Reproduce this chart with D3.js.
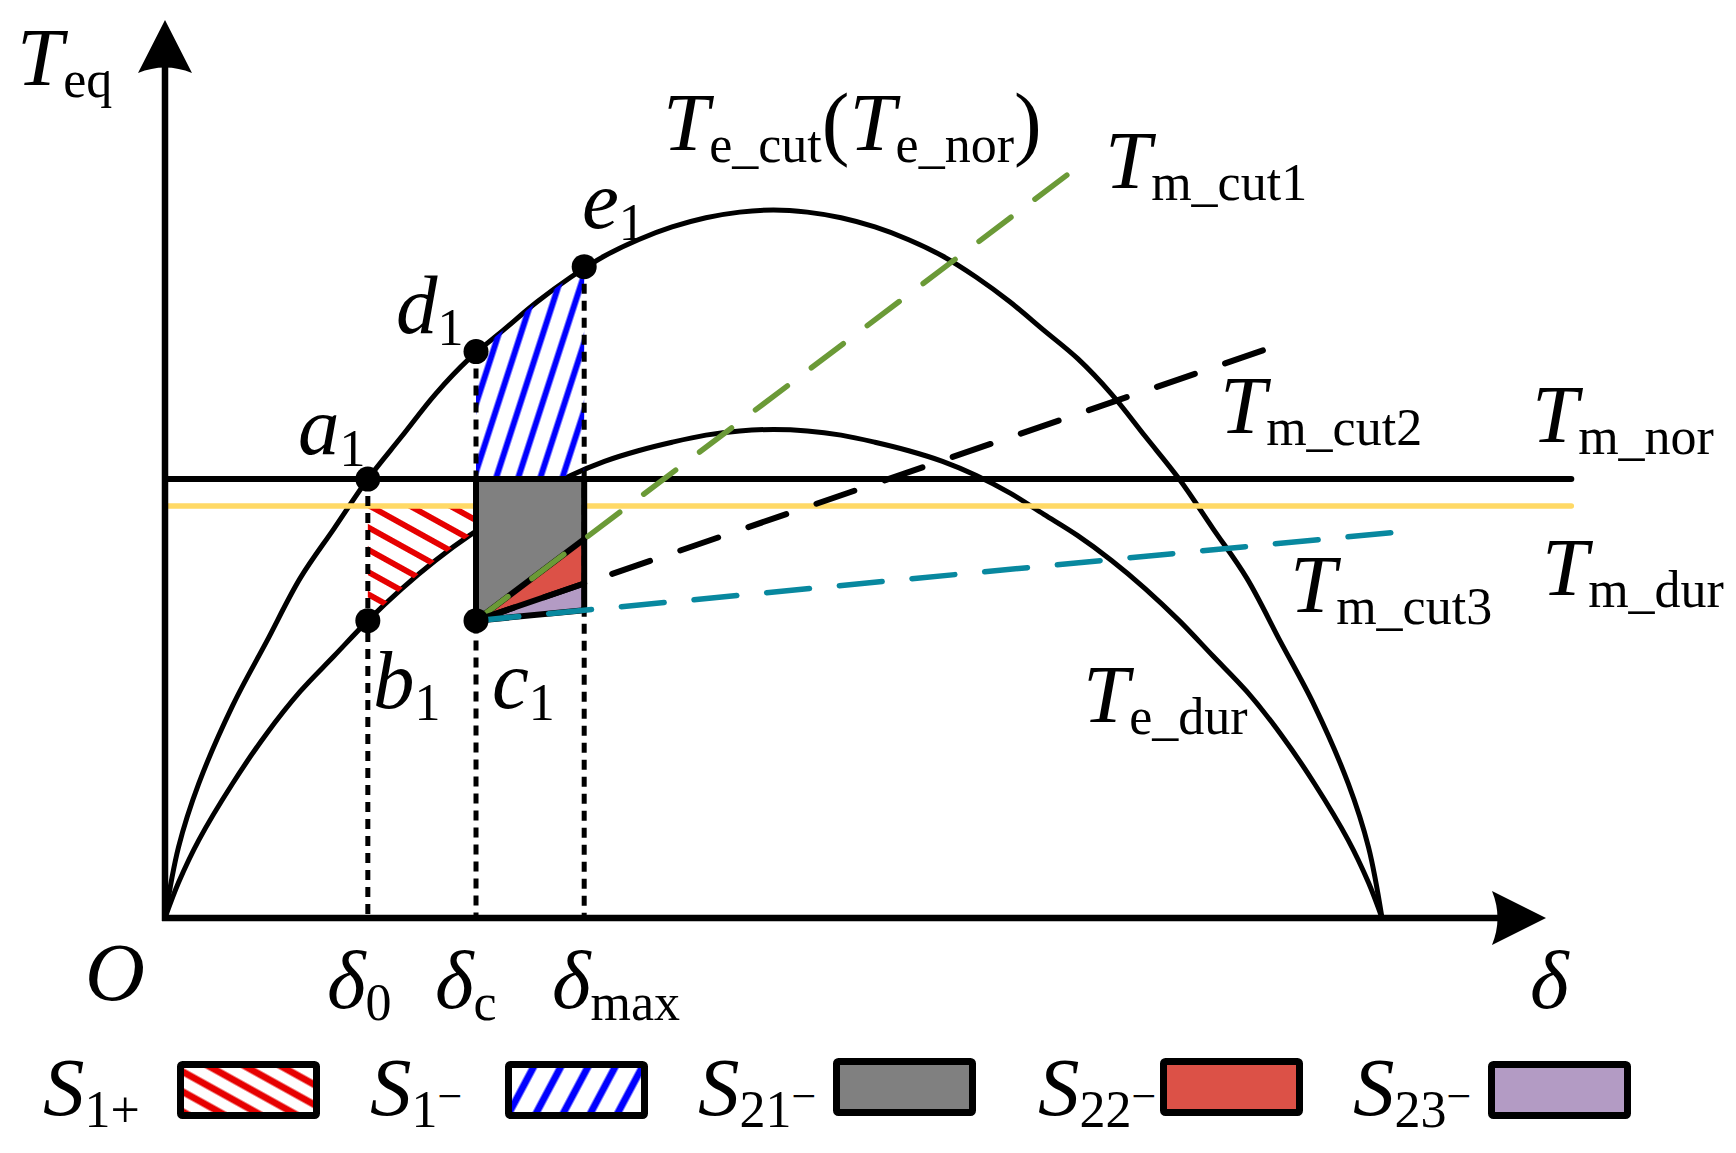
<!DOCTYPE html>
<html>
<head>
<meta charset="utf-8">
<script src="https://cdn.jsdelivr.net/npm/d3@7"></script>
<style>
  html, body { margin: 0; padding: 0; background: #fff; }
  svg { display: block; }
  text { font-family: "Liberation Serif", "Times New Roman", serif; fill: #000; }
</style>
</head>
<body>
<svg id="chart" width="1736" height="1153"></svg>
<script>
// power angle samples (deg) and the two electromagnetic torque curves
var deltaSamples = [0, 2, 5, 10, 15, 20, 25, 30, 35, 40, 45, 50, 55, 60, 65, 70, 75, 80, 85, 90,
  95, 100, 105, 110, 115, 120, 125, 130, 135, 140, 145, 150, 155, 160, 165, 170, 175, 178, 180];
var teCutVals = [0, 0.10, 0.19, 0.30, 0.39, 0.48, 0.55, 0.62, 0.68, 0.74, 0.79, 0.83, 0.87, 0.905, 0.935, 0.958, 0.976, 0.989, 0.997, 1.00,
  0.997, 0.989, 0.976, 0.958, 0.935, 0.905, 0.87, 0.83, 0.79, 0.74, 0.68, 0.62, 0.55, 0.48, 0.39, 0.30, 0.19, 0.10, 0];
var teDurVals = [0, 0.05, 0.11, 0.19, 0.26, 0.32, 0.37, 0.42, 0.465, 0.505, 0.54, 0.57, 0.60, 0.625, 0.645, 0.66, 0.672, 0.682, 0.688, 0.69,
  0.688, 0.682, 0.672, 0.66, 0.645, 0.625, 0.60, 0.57, 0.54, 0.505, 0.465, 0.42, 0.37, 0.32, 0.26, 0.19, 0.11, 0.05, 0];

// mechanical torque levels
var tmNor = 0.62;
var tmDur = 0.582;
var tmEnd = 208; // where the horizontal torque lines stop

// key angles
var angleNames = ["0", "c", "max"];
var angleVals = [30, 46, 62];

// marked points a1..e1
var pointNames = ["a", "b", "c", "d", "e"];
var pointDelta = [30, 30, 46, 46, 62];
var pointT = [0.62, 0.42, 0.42, 0.80, 0.92];

// T_m_cut lines, all start at c1
var cutNames = ["m_cut1", "m_cut2", "m_cut3"];
var cutEndDelta = [134.6, 163.1, 182.2];
var cutEndT = [1.058, 0.804, 0.545];
var cutColors = ["#6b9a37", "#000000", "#08889f"];

// legend
var legendNames = ["1+", "1\u2212", "21\u2212", "22\u2212", "23\u2212"];

var svg = d3.select("#chart");

var x = d3.scaleLinear().domain([0, 180]).range([165, 1382]);
var y = d3.scaleLinear().domain([0, 1]).range([918, 210]);

var curve = d3.curveCatmullRom.alpha(0.5);
var cutPts = deltaSamples.map(function (d, i) { return [d, teCutVals[i]] });
var durPts = deltaSamples.map(function (d, i) { return [d, teDurVals[i]] });

var line = d3.line()
  .x(function (d) { return x(d[0]) })
  .y(function (d) { return y(d[1]) })
  .curve(curve);

//patterns
var defs = svg.append("defs");
function hatch(id, color, gap, width, angle) {
  var p = defs.append("pattern")
    .attr("id", id)
    .attr("patternUnits", "userSpaceOnUse")
    .attr("width", 40).attr("height", gap)
    .attr("patternTransform", "rotate(" + angle + ")");
  p.append("line")
    .attr("x1", 0).attr("x2", 40)
    .attr("y1", gap / 2).attr("y2", gap / 2)
    .attr("stroke", color).attr("stroke-width", width);
}
hatch("hatchRed", "#e60000", 19.5, 6, 29);
hatch("hatchBlue", "#0000ff", 21, 6, -72);
hatch("legRed", "#e60000", 17.5, 7, 29);
hatch("legBlue", "#0000ff", 24, 7, -62);

defs.append("clipPath").attr("id", "clipS1p")
  .append("rect")
  .attr("x", x(angleVals[0])).attr("y", 0)
  .attr("width", x(angleVals[1]) - x(angleVals[0])).attr("height", 1153);
defs.append("clipPath").attr("id", "clipS1m")
  .append("rect")
  .attr("x", x(angleVals[1])).attr("y", 0)
  .attr("width", x(angleVals[2]) - x(angleVals[1])).attr("height", 1153);

//curves
svg.append("path").attr("d", line(cutPts))
  .attr("fill", "none").attr("stroke", "#000").attr("stroke-width", 5);
svg.append("path").attr("d", line(durPts))
  .attr("fill", "none").attr("stroke", "#000").attr("stroke-width", 5);

//hatched areas
var areaDur = d3.area()
  .x(function (d) { return x(d[0]) })
  .y0(function (d) { return y(d[1]) })
  .y1(y(tmDur))
  .curve(curve);
svg.append("path").attr("d", areaDur(durPts))
  .attr("clip-path", "url(#clipS1p)")
  .attr("fill", "url(#hatchRed)");

var areaCut = d3.area()
  .x(function (d) { return x(d[0]) })
  .y0(function (d) { return y(d[1]) })
  .y1(y(tmNor))
  .curve(curve);
svg.append("path").attr("d", areaCut(cutPts))
  .attr("clip-path", "url(#clipS1m)")
  .attr("fill", "url(#hatchBlue)");

//yellow T_m_dur
svg.append("line")
  .attr("x1", x(0)).attr("x2", x(tmEnd))
  .attr("y1", y(tmDur)).attr("y2", y(tmDur))
  .attr("stroke", "#ffd966").attr("stroke-width", 5.5)
  .attr("stroke-linecap", "round");

//box with S21 S22 S23
var dc = angleVals[1], dm = angleVals[2];
var c1 = [pointDelta[2], pointT[2]];
function cutAt(i, d) {
  return c1[1] + (cutEndT[i] - c1[1]) * (d - c1[0]) / (cutEndDelta[i] - c1[0]);
}
function poly(pts) {
  return "M" + pts.map(function (p) { return x(p[0]) + "," + y(p[1]) }).join("L") + "Z";
}
svg.append("path")
  .attr("d", poly([[dc, tmNor], [dm, tmNor], [dm, cutAt(0, dm)], c1]))
  .attr("fill", "#808080");
svg.append("path")
  .attr("d", poly([c1, [dm, cutAt(0, dm)], [dm, cutAt(1, dm)]]))
  .attr("fill", "#dc5147");
svg.append("path")
  .attr("d", poly([c1, [dm, cutAt(1, dm)], [dm, cutAt(2, dm)]]))
  .attr("fill", "#b39bc4");

var edges = [
  [[dc, tmNor], c1],
  [[dm, tmNor], [dm, cutAt(2, dm)]],
  [c1, [dm, cutAt(0, dm)]],
  [c1, [dm, cutAt(1, dm)]],
  [c1, [dm, cutAt(2, dm)]]
];
svg.selectAll(".edge").data(edges).enter().append("line")
  .attr("class", "edge")
  .attr("x1", function (d) { return x(d[0][0]) })
  .attr("y1", function (d) { return y(d[0][1]) })
  .attr("x2", function (d) { return x(d[1][0]) })
  .attr("y2", function (d) { return y(d[1][1]) })
  .attr("stroke", "#000").attr("stroke-width", 6)
  .attr("stroke-linecap", "round");

//T_m_nor
svg.append("line")
  .attr("x1", x(0)).attr("x2", x(tmEnd))
  .attr("y1", y(tmNor)).attr("y2", y(tmNor))
  .attr("stroke", "#000").attr("stroke-width", 6)
  .attr("stroke-linecap", "round");

//dotted drops
var dropTop = [pointT[0], pointT[3], pointT[4]];
svg.selectAll(".drop").data(angleVals).enter().append("line")
  .attr("class", "drop")
  .attr("x1", function (d) { return x(d) })
  .attr("x2", function (d) { return x(d) })
  .attr("y1", function (d, i) { return y(dropTop[i]) })
  .attr("y2", y(0))
  .attr("stroke", "#000").attr("stroke-width", 5)
  .attr("stroke-dasharray", "10,7");

//dashed cut lines
var dashes = ["40,30", "40,32", "43,30"];
svg.selectAll(".cut").data(cutNames).enter().append("line")
  .attr("class", "cut")
  .attr("x1", x(c1[0])).attr("y1", y(c1[1]))
  .attr("x2", function (d, i) { return x(cutEndDelta[i]) })
  .attr("y2", function (d, i) { return y(cutEndT[i]) })
  .attr("stroke", function (d, i) { return cutColors[i] })
  .attr("stroke-width", function (d, i) { return i == 1 ? 6 : 5.5 })
  .attr("stroke-linecap", "round")
  .attr("stroke-dasharray", function (d, i) { return dashes[i] });

//points
svg.selectAll(".pt").data(pointNames).enter().append("circle")
  .attr("class", "pt")
  .attr("cx", function (d, i) { return x(pointDelta[i]) })
  .attr("cy", function (d, i) { return y(pointT[i]) })
  .attr("r", 12.5)
  .attr("fill", "#000");

//axes
svg.append("line")
  .attr("x1", x(0)).attr("x2", x(0))
  .attr("y1", y(0) + 3).attr("y2", 66)
  .attr("stroke", "#000").attr("stroke-width", 6.5);
svg.append("path")
  .attr("d", "M165,20 L192,73 Q165,62 138,73 Z")
  .attr("fill", "#000");
svg.append("line")
  .attr("x1", x(0) - 3).attr("x2", 1500)
  .attr("y1", y(0)).attr("y2", y(0))
  .attr("stroke", "#000").attr("stroke-width", 6.5);
svg.append("path")
  .attr("d", "M1546,918 L1492,891 Q1503,918 1492,945 Z")
  .attr("fill", "#000");

//labels
var BIG = 83, SUB = 52, SHIFT = 12;
function label(px, py, parts) {
  var t = svg.append("text").attr("x", px).attr("y", py);
  var off = 0;
  parts.forEach(function (p) {
    var s = t.append("tspan").text(p.t);
    var want = p.sub ? SHIFT : (p.dy || 0);
    s.attr("dy", want - off);
    off = want;
    s.attr("font-size", p.size || (p.sub ? SUB : BIG));
    if (p.i) s.attr("font-style", "italic");
  });
  return t;
}

label(17, 85, [{ t: "T", i: true }, { t: "eq", sub: true }]);
label(663, 150, [{ t: "T", i: true }, { t: "e_cut", sub: true }, { t: "(" },
  { t: "T", i: true }, { t: "e_nor", sub: true }, { t: ")" }]);
label(1105, 188, [{ t: "T", i: true }, { t: cutNames[0], sub: true }]);
label(1220, 433, [{ t: "T", i: true }, { t: cutNames[1], sub: true }]);
label(1290, 612, [{ t: "T", i: true }, { t: cutNames[2], sub: true }]);
label(1532, 442, [{ t: "T", i: true }, { t: "m_nor", sub: true }]);
label(1542, 595, [{ t: "T", i: true }, { t: "m_dur", sub: true }]);
label(1083, 722, [{ t: "T", i: true }, { t: "e_dur", sub: true }]);

// point labels
var ptLabelPos = [[298, 454], [373, 708], [492, 708], [396, 333], [582, 228]];
pointNames.forEach(function (n, i) {
  label(ptLabelPos[i][0], ptLabelPos[i][1], [{ t: n, i: true }, { t: "1", sub: true }]);
});

label(85, 1000, [{ t: "O", i: true }]);
var angLabelX = [327, 435, 552];
angleNames.forEach(function (n, i) {
  label(angLabelX[i], 1008, [{ t: "\u03b4", i: true }, { t: n, sub: true }]);
});
label(1530, 1008, [{ t: "\u03b4", i: true }]);

//legend
var legTextX = [43, 370, 698, 1038, 1353];
var legBoxX = [177, 505, 833, 1160, 1488];
var legBoxY = [1061, 1061, 1058, 1058, 1061];
var legFill = ["url(#legRed)", "url(#legBlue)", "#808080", "#dc5147", "#b39bc4"];
legendNames.forEach(function (n, i) {
  var num = n.replace("\u2212", "");
  var parts = [{ t: "S", i: true }, { t: num, sub: true }];
  if (n.indexOf("+") < 0) parts.push({ t: "\u2212", size: 44, dy: -4 });
  label(legTextX[i], 1115, parts);
  svg.append("rect")
    .attr("x", legBoxX[i] + 3.5).attr("y", legBoxY[i] + 3.5)
    .attr("width", 136).attr("height", 51)
    .attr("rx", 2)
    .attr("fill", legFill[i])
    .attr("stroke", "#000").attr("stroke-width", 7);
});
</script>
</body>
</html>
